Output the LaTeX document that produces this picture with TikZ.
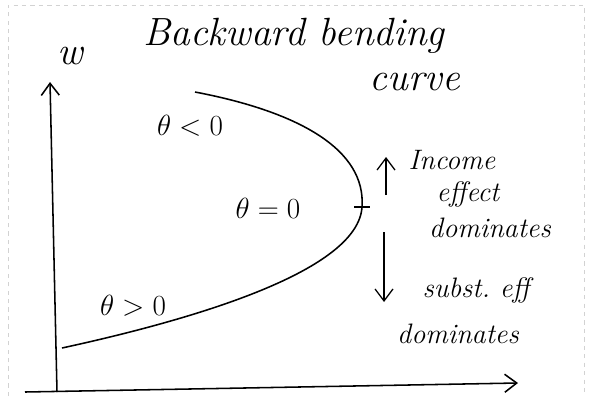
\documentclass[tikz,border=0pt]{standalone}
\usepackage{amsmath}
\usepackage{tikz}
\usetikzlibrary{arrows.meta,positioning}

\begin{document}
\begin{tikzpicture}[
  x=0.025cm,y=-0.025cm,
  >={Straight Barb[length=3mm,width=4.5mm]},
  axis/.style={->,line width=1.1pt},
  supply/.style={line width=1.1pt},
  note/.style={->,line width=0.9pt},
  hand/.style={font=\fontsize{20}{22}\selectfont\itshape,inner sep=0pt},
  big/.style={font=\fontsize{28}{30}\selectfont\itshape,inner sep=0pt},
  lab/.style={font=\fontsize{20}{22}\selectfont,inner sep=0pt}
]
\useasboundingbox (0,0) rectangle (589,396);
% scan edge
\draw[gray!35,dashed,line width=0.4pt] (8,396) -- (8,5) -- (584,5) -- (584,396);

% axes
\coordinate (orig) at (57,392);
\coordinate (ytop) at (50,82);
\coordinate (xleft) at (25,392);
\coordinate (xright) at (518,383);
\draw[axis] (orig) -- (ytop);
\draw[axis] (xleft) -- (xright);
\node[big] (wlab) at (70,56) {w};

% title
\node[big] (title) at (294,36) {Backward bending};
\node[big] (title2) at (415,82) {curve};

% backward bending labour supply
\coordinate (low) at (62,348);
\coordinate (vertex) at (362,207);
\coordinate (high) at (195,92);
\draw[supply] (low) .. controls (200,318) and (358,270) .. (vertex)
  .. controls (366,150) and (300,112) .. (high);
\draw[supply] (vertex) ++(-8,0) -- ++(16,0);

\node[lab] (neg) at (190,126) {$\theta<0$};
\node[lab] (zero) at (268,208) {$\theta=0$};
\node[lab] (pos) at (133,306) {$\theta>0$};

% income effect
\coordinate (incbot) at (386,195);
\coordinate (inctop) at (386,157);
\draw[note] (incbot) -- (inctop);
\node[hand] (inc) at (452,160) {Income};
\node[hand] (eff) at (468,194) {effect};
\node[hand] (incdom) at (490,228) {dominates};

% substitution effect
\coordinate (subtop) at (384,232);
\coordinate (subbot) at (384,302);
\draw[note] (subtop) -- (subbot);
\node[hand] (sub) at (476,290) {subst.\ eff};
\node[hand] (subdom) at (458,334) {dominates};
\end{tikzpicture}
\end{document}
